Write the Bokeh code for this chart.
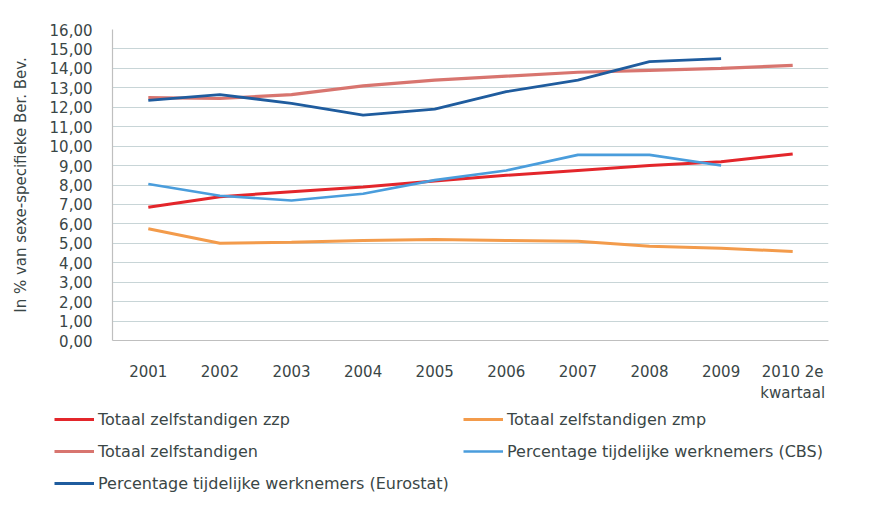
from bokeh.plotting import figure
from bokeh.layouts import column
from bokeh.models import FactorRange, Range1d, FixedTicker, Legend, LegendItem
from bokeh.embed import file_html
from bokeh.resources import INLINE

categories = ["2001", "2002", "2003", "2004", "2005", "2006", "2007", "2008", "2009", "2010 2e\nkwartaal"]

zzp = [6.85, 7.4, 7.65, 7.9, 8.2, 8.5, 8.75, 9.0, 9.2, 9.6]
zmp = [5.75, 5.0, 5.05, 5.15, 5.2, 5.15, 5.1, 4.85, 4.75, 4.58]
totaal = [12.5, 12.45, 12.65, 13.1, 13.4, 13.6, 13.8, 13.9, 14.0, 14.15]
cbs = [8.05, 7.45, 7.2, 7.55, 8.25, 8.75, 9.55, 9.55, 9.0]
eurostat = [12.35, 12.65, 12.2, 11.6, 11.9, 12.8, 13.4, 14.35, 14.5]

y_ticks = list(range(0, 17))
y_labels = {t: f"{t},00" for t in y_ticks}

series_names = ["Totaal zelfstandigen zzp", "Totaal zelfstandigen zmp", "Totaal zelfstandigen",
                "Percentage tijdelijke werknemers (CBS)", "Percentage tijdelijke werknemers (Eurostat)"]
colors = ["#e3262b", "#f39b4b", "#d8756f", "#4a9ddc", "#1f5c9e"]
widths = [3, 3, 3.2, 2.6, 2.8]

FONT = "DejaVu Sans"
TXT = "#3a4646"

p = figure(width=859, height=405, x_range=FactorRange(*categories), y_range=Range1d(0, 16),
           output_backend="svg", toolbar_location=None,
           min_border_left=112, min_border_right=31, min_border_top=29, min_border_bottom=62)
p.frame_align = False
p.outline_line_color = None
p.background_fill_color = "white"
p.border_fill_color = "white"

p.xgrid.grid_line_color = None
p.ygrid.grid_line_color = "#c8d5d7"
p.ygrid.grid_line_width = 1.2
p.yaxis.ticker = FixedTicker(ticks=y_ticks)
p.yaxis.major_label_overrides = y_labels

for ax in (p.xaxis[0], p.yaxis[0]):
    ax.axis_line_color = "#bfbfbf"
    ax.axis_line_width = 1.2
    ax.major_tick_line_color = None
    ax.minor_tick_line_color = None
    ax.major_tick_out = 0
    ax.major_tick_in = 0
    ax.minor_tick_out = 0
    ax.minor_tick_in = 0
    ax.major_label_text_font = FONT
    ax.major_label_text_font_size = "15px"
    ax.major_label_text_color = TXT

p.yaxis.major_label_standoff = 20
p.xaxis.major_label_standoff = 22
p.yaxis.axis_label = "In % van sexe-specifieke Ber. Bev."
p.yaxis.axis_label_text_font = FONT
p.yaxis.axis_label_text_font_style = "normal"
p.yaxis.axis_label_text_font_size = "15px"
p.yaxis.axis_label_text_color = TXT
p.yaxis.axis_label_standoff = 17

data = [zzp, zmp, totaal, cbs, eurostat]
for i in [2, 0, 1, 3, 4]:
    vals = data[i]
    p.line(categories[:len(vals)], vals, line_color=colors[i], line_width=widths[i])

# legend panel: a second figure whose frame spans its whole area
q = figure(width=859, height=88, x_range=Range1d(0, 1), y_range=Range1d(0, 1),
           output_backend="svg", toolbar_location=None, x_axis_type=None, y_axis_type=None,
           min_border=0)
q.frame_align = False
q.outline_line_color = None
q.xgrid.grid_line_color = None
q.ygrid.grid_line_color = None
nan = float("nan")
proxies = [q.line([nan, nan], [nan, nan], line_color=colors[i], line_width=widths[i]) for i in range(5)]

def mk_legend(idx, loc):
    return Legend(items=[LegendItem(label=series_names[i], renderers=[proxies[i]]) for i in idx],
                  location=loc, orientation="vertical",
                  glyph_width=40, glyph_height=20, label_height=20, label_standoff=4,
                  spacing=12, padding=0, margin=0, border_line_color=None,
                  background_fill_alpha=0, label_text_font=FONT, label_text_font_size="16px",
                  label_text_color=TXT)

q.add_layout(mk_legend([0, 2, 4], (54, 0)), "center")
q.add_layout(mk_legend([1, 3], (463, 32)), "center")

layout = column(p, q, spacing=0)
open("out.html", "w").write(file_html(layout, INLINE))
